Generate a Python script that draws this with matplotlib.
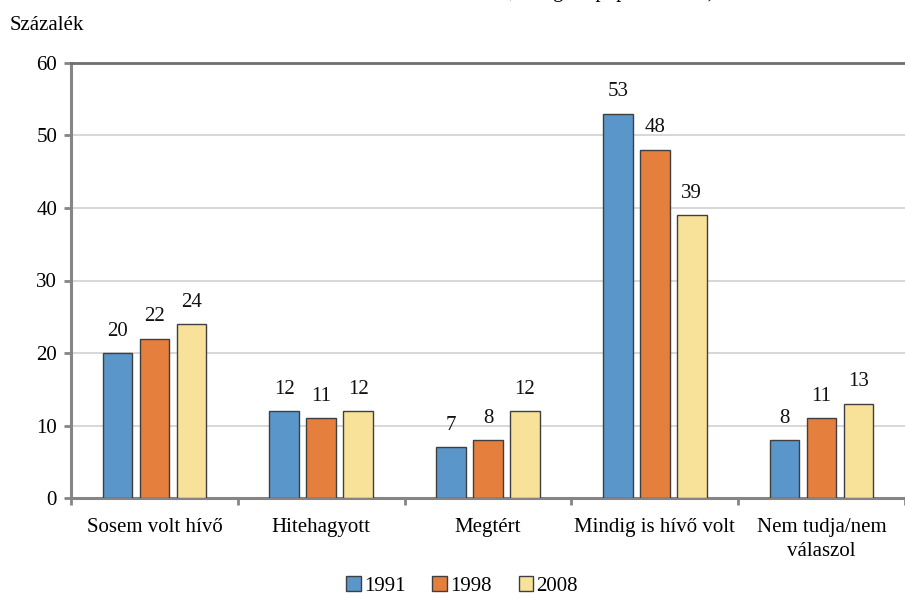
"""Vallásos neveltetés és jelenlegi hit, 1991-1998-2008."""

import matplotlib

matplotlib.use("Agg")

import matplotlib.pyplot as plt
from matplotlib.patches import Patch
import numpy as np


CATEGORIES = [
    "Sosem volt hívő",
    "Hitehagyott",
    "Megtért",
    "Mindig is hívő volt",
    "Nem tudja/nem\nválaszol",
]
YEARS = ["1991", "1998", "2008"]
VALUES_1991 = [20, 12, 7, 53, 8]
VALUES_1998 = [22, 11, 8, 48, 11]
VALUES_2008 = [24, 12, 12, 39, 13]
Y_TICKS = [0, 10, 20, 30, 40, 50, 60]

COLORS = ["#5b96cb", "#e47f3e", "#f8e29a"]
EDGE = "#3f3f3f"
SPINE = "#858585"
GRID = "#d4d4d4"
FONT = "Liberation Serif"
FS = 15


def main():
    plt.rcParams.update({"font.family": FONT, "font.size": FS})

    fig = plt.figure(figsize=(9.05, 5.95), dpi=100, facecolor="white")
    ax = fig.add_axes([71 / 905, 96.7 / 595, 834 / 905, 435.6 / 595])

    series = [VALUES_1991, VALUES_1998, VALUES_2008]
    centers = np.arange(len(CATEGORIES)) + 0.5
    width = 0.177
    step = 0.222
    for k, (vals, color) in enumerate(zip(series, COLORS)):
        xs = centers + (k - 1) * step
        bars = ax.bar(xs, vals, width=width, color=color, edgecolor=EDGE,
                      linewidth=1.0, zorder=3)
        for bar, v in zip(bars, vals):
            ax.annotate(str(v), (bar.get_x() + bar.get_width() / 2, v),
                        xytext=(0, 9), textcoords="offset points",
                        ha="center", va="bottom", fontsize=FS, color="#111111")

    ax.set_ylim(0, 60)
    ax.set_xlim(0, 834 / 169.3)
    ax.set_yticks(Y_TICKS)
    ax.yaxis.grid(True, color=GRID, linewidth=1.3, zorder=0)
    ax.set_axisbelow(True)

    ax.set_xticks(centers)
    ax.set_xticklabels(CATEGORIES, fontsize=FS, linespacing=1.4)
    ax.set_xticks(np.arange(0, 6), minor=True)
    ax.tick_params(axis="x", which="major", length=0, pad=14)
    ax.tick_params(axis="x", which="minor", length=5, width=2, color=SPINE,
                   direction="out")
    ax.tick_params(axis="y", length=5, width=2, color=SPINE, pad=5,
                   labelsize=FS)

    ax.spines["right"].set_visible(False)
    ax.spines["top"].set_color("#6e6e6e")
    ax.spines["top"].set_linewidth(2.0)
    for side in ("left", "bottom"):
        ax.spines[side].set_color(SPINE)
        ax.spines[side].set_linewidth(2.2)

    fig.text(10 / 905, 1 - 25 / 595, "Százalék", ha="left", va="center",
             fontsize=FS)
    # Clipped subtitle line: only its descenders remain at the top edge.
    fig.text(715 / 905, 1 + 3 / 595,
             "(Az összes kérdezett vallási önbesorolása a három felvételben, "
             "az egész populációban)",
             ha="right", va="baseline", fontsize=FS)

    handles = [Patch(facecolor=c, edgecolor=EDGE, linewidth=1.0) for c in COLORS]
    fig.legend(handles, YEARS, loc="center", bbox_to_anchor=(462 / 905, 1 - 586 / 595),
               ncol=3, frameon=False, fontsize=FS, handlelength=0.7,
               handleheight=0.7, handletextpad=0.15, columnspacing=1.3,
               borderaxespad=0)

    fig.savefig("out.png", dpi=100, facecolor="white")
    plt.close(fig)


if __name__ == "__main__":
    main()
